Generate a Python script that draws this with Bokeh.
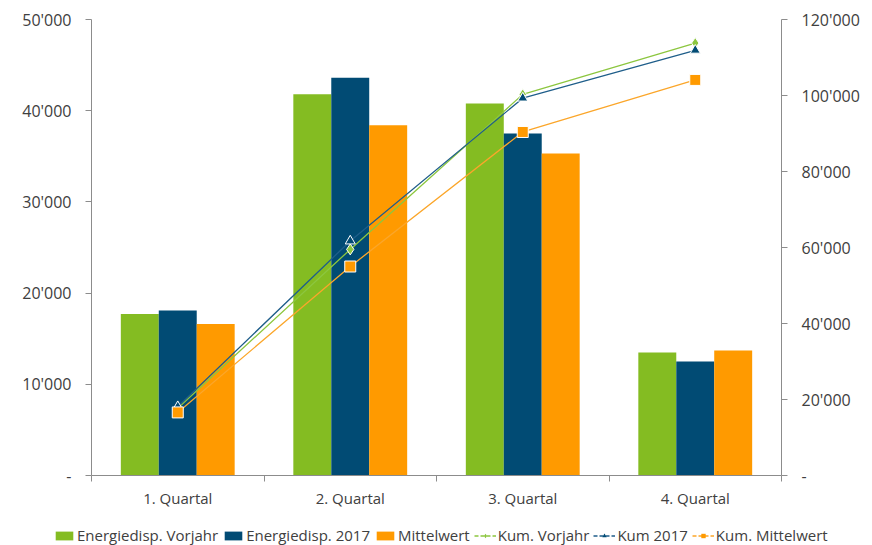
import numpy as np
from bokeh.plotting import figure
from bokeh.layouts import column
from bokeh.models import (Range1d, LinearAxis, FixedTicker, CustomJSTickFormatter,
                          Legend, LegendItem, ColumnDataSource)
from bokeh.embed import file_html
from bokeh.resources import INLINE

categories = ["1. Quartal", "2. Quartal", "3. Quartal", "4. Quartal"]
energie_vorjahr = [17700, 41800, 40800, 13500]
energie_2017 = [18100, 43600, 37500, 12500]
mittelwert = [16600, 38400, 35300, 13700]
kum_vorjahr = [17700, 59500, 100300, 113800]
kum_2017 = [18100, 61700, 99300, 111900]
kum_mittel = [16600, 55000, 90400, 104100]
series_names = ["Energiedisp. Vorjahr", "Energiedisp. 2017", "Mittelwert",
                "Kum. Vorjahr", "Kum 2017", "Kum. Mittelwert"]

left_ticks = [0, 10000, 20000, 30000, 40000, 50000]
right_ticks = [0, 20000, 40000, 60000, 80000, 100000, 120000]

GREEN = "#84BC22"
BLUE = "#014B74"
ORANGE = "#FF9A00"
LGREEN = "#8CC63F"
LBLUE = "#1F5E8A"
LORANGE = "#FBA62A"
TEXT = "#404040"
AXIS = "#8C8C8C"
FONT = "Open Sans"

n = len(categories)
xc = np.arange(n) + 0.5
bw = 0.22

src = ColumnDataSource(dict(
    x=xc, xg=xc - bw, xo=xc + bw,
    v=energie_vorjahr, b=energie_2017, m=mittelwert,
    kv=kum_vorjahr, kb=kum_2017, km=kum_mittel,
))

p = figure(width=872, height=513, x_range=Range1d(0, n), y_range=Range1d(0, 50000),
           output_backend="svg", toolbar_location=None,
           min_border_left=91, min_border_right=91, min_border_top=19, min_border_bottom=38)
p.outline_line_color = None
p.xgrid.visible = False
p.ygrid.visible = False
p.extra_y_ranges = {"kum": Range1d(0, 120000)}

fmt = CustomJSTickFormatter(code="""
if (tick == 0) { return "-"; }
return String(Math.round(tick)).replace(/\\B(?=(\\d{3})+(?!\\d))/g, "'");
""")

# x axis
xa = p.xaxis[0]
xa.ticker = FixedTicker(ticks=list(xc), minor_ticks=list(range(n + 1)))
xa.major_label_overrides = {float(x): c for x, c in zip(xc, categories)}
xa.major_tick_out = 0
xa.major_tick_in = 0
xa.minor_tick_out = 6
xa.minor_tick_in = 0
xa.minor_tick_line_color = AXIS
xa.axis_line_color = AXIS
xa.major_label_text_font = FONT
xa.major_label_text_font_size = "15px"
xa.major_label_text_color = TEXT
xa.major_label_standoff = 6

# left axis
ya = p.yaxis[0]
ya.ticker = FixedTicker(ticks=left_ticks)
ya.formatter = fmt
ya.major_tick_out = 6
ya.major_tick_in = 0
ya.minor_tick_out = 0
ya.minor_tick_in = 0
ya.axis_line_color = AXIS
ya.major_tick_line_color = AXIS
ya.major_label_text_font = FONT
ya.major_label_text_font_size = "16px"
ya.major_label_text_color = TEXT
ya.major_label_standoff = 14

# right axis
ra = LinearAxis(y_range_name="kum", ticker=FixedTicker(ticks=right_ticks), formatter=fmt)
ra.major_tick_out = 6
ra.major_tick_in = 0
ra.minor_tick_out = 0
ra.minor_tick_in = 0
ra.axis_line_color = AXIS
ra.major_tick_line_color = AXIS
ra.major_label_text_font = FONT
ra.major_label_text_font_size = "16px"
ra.major_label_text_color = TEXT
ra.major_label_standoff = 14
p.add_layout(ra, "right")

p.vbar(x="xg", top="v", width=bw, source=src, fill_color=GREEN, line_color=None)
p.vbar(x="x", top="b", width=bw, source=src, fill_color=BLUE, line_color=None)
p.vbar(x="xo", top="m", width=bw, source=src, fill_color=ORANGE, line_color=None)

p.line(x="x", y="kv", source=src, y_range_name="kum", line_color=LGREEN, line_width=1.3)
p.scatter(x="x", y="kv", source=src, y_range_name="kum", marker="diamond", size=11,
          fill_color=LGREEN, line_color="white", line_width=1)
p.line(x="x", y="kb", source=src, y_range_name="kum", line_color=LBLUE, line_width=1.3)
p.scatter(x="x", y="kb", source=src, y_range_name="kum", marker="triangle", size=10,
          fill_color=BLUE, line_color="white", line_width=1)
p.line(x="x", y="km", source=src, y_range_name="kum", line_color=LORANGE, line_width=1.3)
p.scatter(x="x", y="km", source=src, y_range_name="kum", marker="square", size=11,
          fill_color=ORANGE, line_color="white", line_width=1)

# legend strip (separate figure; its renderers hold only NaN so they draw nothing)
lg = figure(width=872, height=32, x_range=Range1d(0, 1), y_range=Range1d(0, 1),
            output_backend="svg", toolbar_location=None, x_axis_type=None, y_axis_type=None,
            min_border=0, min_border_left=0, min_border_right=0,
            min_border_top=0, min_border_bottom=0)
lg.outline_line_color = None
lg.xgrid.visible = False
lg.ygrid.visible = False
if "frame_align" in lg.properties():
    lg.frame_align = False
    p.frame_align = False
e = ColumnDataSource(dict(x=[np.nan], y=[np.nan], t=[np.nan]))
lr_v = lg.vbar(x="x", top="t", width=1, source=e, fill_color=GREEN, line_color=None)
lr_b = lg.vbar(x="x", top="t", width=1, source=e, fill_color=BLUE, line_color=None)
lr_m = lg.vbar(x="x", top="t", width=1, source=e, fill_color=ORANGE, line_color=None)
ll_v = lg.line(x="x", y="y", source=e, line_color=LGREEN, line_width=1.3, line_dash="4 2")
ls_v = lg.scatter(x="x", y="y", source=e, marker="diamond", size=7, fill_color=LGREEN, line_color=None)
ll_b = lg.line(x="x", y="y", source=e, line_color=LBLUE, line_width=1.3, line_dash="4 2")
ls_b = lg.scatter(x="x", y="y", source=e, marker="triangle", size=6, fill_color=BLUE, line_color=None)
ll_m = lg.line(x="x", y="y", source=e, line_color=LORANGE, line_width=1.3, line_dash="4 2")
ls_m = lg.scatter(x="x", y="y", source=e, marker="square", size=7, fill_color=ORANGE, line_color=None)

legend = Legend(items=[
    LegendItem(label=series_names[0], renderers=[lr_v]),
    LegendItem(label=series_names[1], renderers=[lr_b]),
    LegendItem(label=series_names[2], renderers=[lr_m]),
    LegendItem(label=series_names[3], renderers=[ll_v, ls_v]),
    LegendItem(label=series_names[4], renderers=[ll_b, ls_b]),
    LegendItem(label=series_names[5], renderers=[ll_m, ls_m]),
], orientation="horizontal", location=(53, 0))
legend.border_line_color = None
legend.background_fill_alpha = 0
legend.padding = 0
legend.margin = 0
legend.spacing = 4
legend.label_standoff = 2
legend.glyph_width = 22
legend.glyph_height = 11
legend.label_text_font = FONT
legend.label_text_font_size = "15px"
legend.label_text_color = TEXT
lg.add_layout(legend, "center")

open("out.html", "w").write(file_html(column(p, lg, spacing=0), INLINE))
